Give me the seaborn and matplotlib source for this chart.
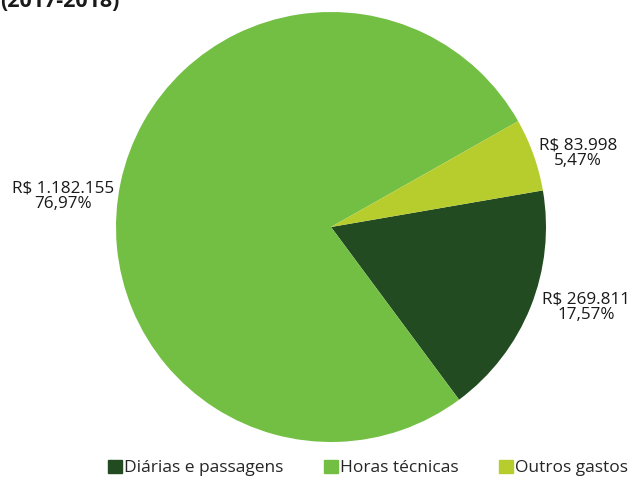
import numpy as np
import matplotlib
matplotlib.use('Agg')
import matplotlib.pyplot as plt
import matplotlib.patches as mpatches
import seaborn as sns

# dados
categorias = ['Diárias e passagens', 'Horas técnicas', 'Outros gastos']
valores = [269811, 1182155, 83998]
rotulos_valor = ['R$ 269.811', 'R$ 1.182.155', 'R$ 83.998']
rotulos_pct = ['17,57%', '76,97%', '5,47%']
cores = ['#224b22', '#73bf44', '#b7cd2e']

sns.set_theme(style='white')
plt.rcParams['font.family'] = ['Open Sans', 'DejaVu Sans']

fig = plt.figure(figsize=(6.33, 4.8), dpi=100)
# eixo posicionado para o centro (331, 227) e raio 215 px
ax = fig.add_axes([116 / 633, 38 / 480, 430 / 633, 430 / 480])

wedges, _ = ax.pie(valores, colors=cores, startangle=9.8, counterclock=False,
                   wedgeprops=dict(linewidth=0))
ax.set_xlim(-1, 1)
ax.set_ylim(-1, 1)
ax.set_aspect('equal')

# rótulos (distância e ângulo ajustados a olho)
ajustes = [(1.245, -17.5), (1.255, 173.5), (1.2, 16.7)]
for i, (dist, ang) in enumerate(ajustes):
    x = dist * np.cos(np.radians(ang))
    y = dist * np.sin(np.radians(ang))
    ax.text(x, y, rotulos_valor[i] + '\n' + rotulos_pct[i], ha='center', va='center',
            fontsize=12.3, color='#1a1a1a', linespacing=0.95)

# título cortado no topo
fig.text(0.0, 1 - 7 / 480, '(2017-2018)', fontsize=15.5, fontweight='bold',
         ha='left', va='baseline', color='#1a1a1a')

handles = [mpatches.Patch(color=c, label=l) for c, l in zip(cores, categorias)]
fig.legend(handles=handles, loc='center', bbox_to_anchor=(368 / 633, 1 - 468 / 480),
           ncol=3, frameon=False, fontsize=12.5, handlelength=0.8, handleheight=0.8,
           handletextpad=0.15, columnspacing=2.3, borderaxespad=0)

plt.savefig('out.png', dpi=100)
